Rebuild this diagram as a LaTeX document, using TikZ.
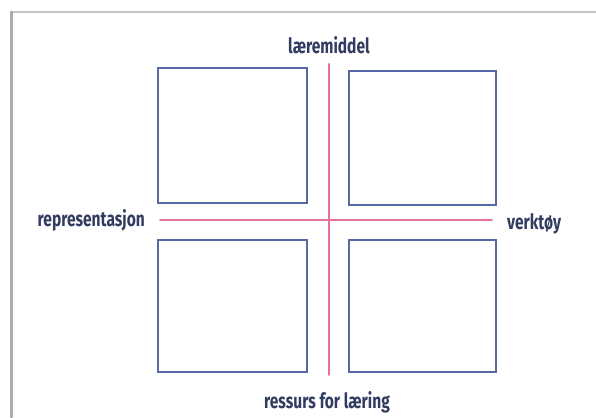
\documentclass[tikz,border=0pt]{standalone}
\usepackage{fontspec}
\newfontfamily\etikettfont[FakeStretch=0.74]{Fira Sans}
\usepackage{tikz}
\usetikzlibrary{positioning}
\usepackage{xcolor}
\definecolor{rammeblaa}{HTML}{5868A4}
\definecolor{aksrosa}{HTML}{E4709C}
\definecolor{tekstblaa}{HTML}{323C60}

\begin{document}
\begin{tikzpicture}[x=1pt,y=-1pt,line cap=round,
  felt/.style={draw=rammeblaa,line width=1.2pt,minimum width=149pt,minimum height=135pt,inner sep=0pt},
  akse/.style={draw=aksrosa,line width=1.7pt},
  etikett/.style={text=tekstblaa,font=\etikettfont\bfseries\fontsize{21}{23}\selectfont,inner sep=0pt}]
\useasboundingbox (0,0) rectangle (596,417);
% ramme
\draw[gray!45,line width=2pt] (11,12) -- (596,12);
\draw[gray!65,line width=3pt] (11,12) -- (11,417);
% fire felt
\node[felt] (ov) at (232.5,135.5) {};
\node[felt,minimum width=147pt,minimum height=134pt] (oh) at (422.5,138) {};
\node[felt,minimum height=132pt] (nv) at (232.5,306) {};
\node[felt,minimum width=147pt,minimum height=132pt] (nh) at (422.5,306) {};
% etiketter
\node[etikett] (laeremiddel) at (329,45) {læremiddel};
\node[etikett] (ressurs) at (327,402) {ressurs for læring};
\node[etikett,anchor=east] (representasjon) at (145,220) {representasjon};
\node[etikett,anchor=west] (verktoy) at (507,224) {verktøy};
% akser
\draw[akse,shorten <=10pt,shorten >=16pt] (laeremiddel.south) -- (laeremiddel.south |- ressurs.north);
\draw[akse,shorten <=15pt,shorten >=15pt] (representasjon.east) -- (representasjon.east -| verktoy.west);
\end{tikzpicture}
\end{document}
